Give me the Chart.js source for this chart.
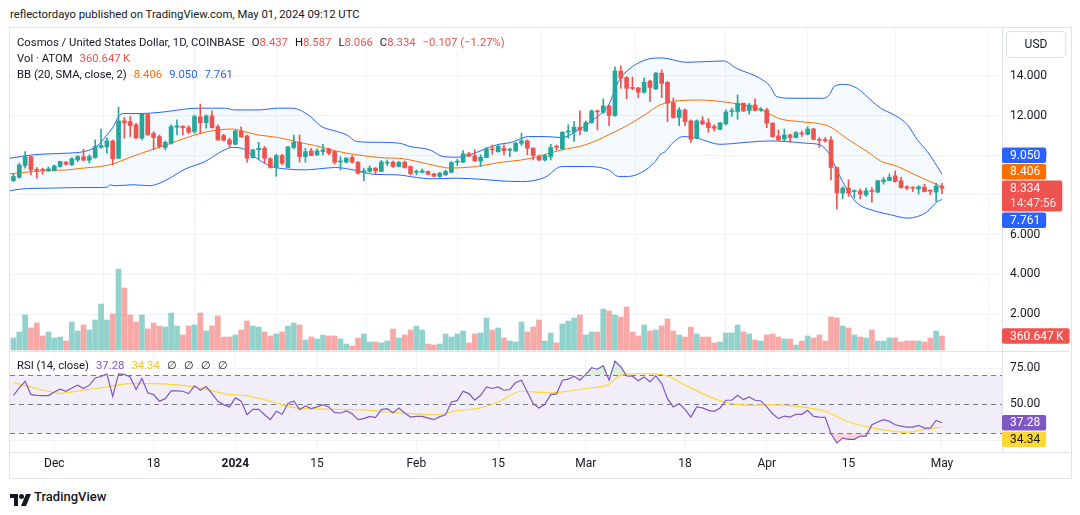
<!DOCTYPE html>
<html>
<head>
<meta charset="utf-8">
<script src="https://cdn.jsdelivr.net/npm/chart.js@4.4.1/dist/chart.umd.min.js"></script>
<style>
  body { margin: 0; background: #fff; font-family: Roboto, "Noto Sans", sans-serif; color: #131722; }
  #wrap { position: relative; width: 1080px; height: 515px; overflow: hidden; }
  .t { position: absolute; white-space: nowrap; font-size: 11.3px; line-height: 16px; }
  .t span.g { margin-left: 7px; }
  .hl { position: absolute; height: 1px; background: #e0e3eb; }
  canvas { position: absolute; }
</style>
</head>
<body>
<div id="wrap">
  <div class="t" style="left:10px;top:7px;">reflectordayo published on TradingView.com, May 01, 2024 09:12 UTC</div>
  <div style="position:absolute;left:9px;top:27px;width:1061px;height:450px;border:1px solid #e0e3eb;"></div>
  <canvas id="price" width="1070" height="322" style="left:10px;top:29px;"></canvas>
  <canvas id="rsi" width="1070" height="127" style="left:10px;top:351px;"></canvas>
  <div class="hl" style="left:10px;top:351px;width:1060px;"></div>
  <div class="hl" style="left:10px;top:452px;width:1060px;"></div>
  <div style="position:absolute;left:1006px;top:31px;width:58px;height:25px;border:1px solid #e0e3eb;border-radius:4px;font-size:12px;line-height:25px;text-align:center;">USD</div>
  <div class="t" id="leg1" style="left:17px;top:35px;"></div>
  <div class="t" id="leg2" style="left:17px;top:51px;"></div>
  <div class="t" id="leg3" style="left:17px;top:67px;"></div>
  <div class="t" id="leg4" style="left:17px;top:358px;"></div>
  <div style="position:absolute;left:10px;top:491px;">
    <svg width="22" height="12" viewBox="0 0 22 12"><path d="M0 0h8v12h-4V4H0z" fill="#131722"/><circle cx="11.5" cy="2.5" r="2.5" fill="#131722"/><path d="M16 0h5l-5 12h-5z" fill="#131722"/></svg>
  </div>
  <div class="t" style="left:34px;top:489px;font-size:13px;font-weight:500;">TradingView</div>
</div>
<script>
// day 0 = 2023-12-01, first candle 2023-11-24
const firstDay = -7;

const opens = [8.72,8.88,9.48,9.93,9.29,9.28,9.21,9.23,9.43,9.65,9.51,9.76,9.92,9.75,9.88,10.39,10.42,10.72,9.85,11.73,
  11.69,11.53,10.86,12.06,11.09,10.94,10.39,10.6,11.41,11.46,11.39,11.19,11.93,11.64,11.98,11.44,10.99,10.77,10.55,11.22,
  10.97,9.88,10.28,10.35,9.82,9.38,9.98,9.38,10.39,10.65,9.93,10.22,10.02,10.18,10.32,10.18,9.66,9.65,9.88,9.65,
  9.14,9.18,9.35,9.18,9.6,9.65,9.43,9.65,9.43,9.14,9.14,9.18,9.06,8.93,9.01,9.13,9.65,9.65,10.07,9.97,
  9.71,9.88,10.32,10.18,10.35,10.25,10.22,10.6,10.72,10.35,9.93,9.76,9.93,10.45,10.32,11.16,11.16,11.41,11.22,11.64,
  12.23,12.16,12.48,12.0,14.24,13.91,13.42,13.39,13.17,13.74,13.34,14.13,13.67,12.65,11.9,12.28,11.73,10.86,11.73,11.63,
  11.44,11.31,11.58,12.2,12.2,12.62,12.25,12.53,12.26,12.28,11.61,10.97,10.82,11.02,10.89,11.11,11.06,11.32,10.79,10.79,
  10.77,9.38,8.09,8.34,8.17,8.2,8.0,8.2,8.14,8.67,8.72,8.96,8.71,8.41,8.37,8.3,8.39,8.22,8.14,8.437];
const highs = [9.09,9.6,10.18,9.93,9.38,9.35,9.41,9.51,9.71,9.68,9.88,9.98,10.3,10.02,10.77,11.32,10.86,10.77,12.42,11.9,
  11.95,11.61,12.1,12.1,11.19,11.02,10.72,11.53,11.78,11.49,11.49,12.03,12.57,12.03,12.23,11.53,11.06,10.86,11.27,11.43,
  11.02,10.3,10.65,10.44,9.88,10.05,10.05,10.45,11.02,11.02,10.35,10.35,10.32,10.55,10.35,10.22,9.93,9.88,9.98,9.68,
  9.35,9.46,9.38,9.75,9.76,9.71,9.68,9.71,9.46,9.26,9.31,9.21,9.09,9.14,9.26,9.68,9.8,10.23,10.15,10.27,
  10.02,10.4,10.52,10.55,10.52,10.35,10.65,11.11,10.77,10.39,10.02,10.05,10.55,10.52,11.19,11.53,11.69,12.23,11.73,12.28,
  12.28,12.84,12.53,14.45,14.5,13.96,13.94,13.41,13.88,13.79,14.18,14.3,13.71,12.87,12.4,12.33,11.78,11.78,11.95,11.83,
  11.53,11.66,12.28,12.37,13.04,12.62,12.62,12.84,12.4,12.37,11.64,11.27,11.32,11.06,11.19,11.22,11.44,11.36,10.89,10.89,
  10.94,9.4,8.42,8.76,8.25,8.3,8.34,8.37,8.74,8.88,9.06,9.21,8.88,8.47,8.41,8.46,8.54,8.25,8.59,8.587];
const lows = [8.67,8.84,9.35,9.01,8.84,9.04,9.18,9.21,9.4,9.48,9.48,9.68,9.71,9.6,9.85,10.35,10.1,9.51,9.82,10.86,
  10.94,10.86,10.77,11.02,10.27,10.35,10.27,10.55,11.02,11.02,11.09,11.11,11.11,11.36,11.36,10.74,10.72,10.39,10.52,10.9,
  9.65,9.85,9.82,9.6,9.35,8.93,9.51,9.38,10.32,9.65,9.65,9.98,9.98,10.02,10.02,9.55,9.26,9.61,9.6,9.04,
  8.71,9.14,9.04,9.18,9.48,9.38,9.41,9.35,9.01,9.01,9.11,9.01,8.91,8.88,8.98,9.11,9.48,9.63,9.93,9.68,
  9.43,9.88,10.05,10.15,10.02,9.93,10.18,10.49,10.02,9.76,9.71,9.71,9.76,10.27,10.27,10.86,10.69,11.02,11.19,11.61,
  11.27,12.11,11.49,11.95,13.37,12.84,13.29,12.9,13.12,12.7,13.3,12.9,11.69,11.86,11.49,11.49,10.65,10.82,11.53,11.16,
  11.22,11.27,11.53,11.95,11.81,12.2,12.08,12.23,12.2,11.39,10.89,10.72,10.69,10.65,10.86,10.94,11.02,10.77,10.39,10.65,
  8.76,7.3,7.8,7.92,7.84,7.8,7.92,7.63,8.1,8.54,8.71,8.64,8.34,8.25,8.17,8.04,8.14,8.0,7.67,8.066];
const closes = [8.93,9.51,9.93,9.26,9.23,9.24,9.31,9.46,9.68,9.55,9.82,9.93,9.75,9.93,10.44,10.49,10.72,9.82,11.73,11.63,
  11.49,10.86,12.06,11.02,10.89,10.44,10.65,11.44,11.48,11.39,11.16,11.95,11.64,11.98,11.39,10.77,10.75,10.55,11.22,10.92,
  9.85,10.27,10.34,9.85,9.38,9.98,9.6,10.42,10.65,9.93,10.18,9.98,10.22,10.27,10.1,9.65,9.71,9.85,9.65,9.09,
  9.21,9.35,9.21,9.65,9.65,9.43,9.65,9.38,9.06,9.18,9.21,9.04,8.94,9.09,9.18,9.63,9.68,10.07,9.95,9.71,
  9.9,10.32,10.27,10.45,10.23,10.28,10.6,10.72,10.35,9.98,9.76,9.98,10.39,10.4,11.16,11.22,11.41,11.27,11.64,12.23,
  12.18,12.48,12.0,14.24,13.88,13.37,13.37,13.17,13.67,13.41,14.13,13.62,12.62,11.9,12.28,11.69,10.8,11.73,11.58,11.39,
  11.36,11.63,12.18,12.23,12.62,12.23,12.53,12.25,12.32,11.61,10.94,10.77,11.02,10.89,11.14,11.07,11.32,10.8,10.75,10.72,
  9.38,8.09,8.34,8.09,8.2,8.04,8.2,8.17,8.71,8.76,8.89,8.67,8.37,8.34,8.34,8.41,8.17,8.19,8.441,8.334];
// volume, thousands of ATOM
const volumesK = [310,464,903,568,697,361,464,310,335,232,722,490,645,516,774,1187,774,929,2090,1600,
  903,722,903,542,697,619,593,955,619,387,619,645,955,490,619,877,335,335,387,516,
  748,619,593,464,361,413,464,619,697,645,258,335,284,387,361,361,284,155,103,310,
  413,206,206,181,232,542,310,387,516,619,516,155,129,155,413,335,413,490,181,413,
  439,826,516,568,310,232,206,722,464,593,774,232,439,181,671,748,826,903,387,464,
  464,1058,1006,903,851,1109,464,361,645,490,516,619,800,490,387,335,593,413,335,335,
  181,206,439,439,645,464,413,258,232,387,413,335,284,284,129,232,361,310,387,232,
  851,826,619,568,387,335,310,516,232,232,310,310,206,232,232,232,206,310,490,360.647];
const rsiVals = [56.2,61.3,65.9,56.7,56.2,56.0,56.0,58.5,60.4,59.0,61.3,63.2,60.9,63.2,68.2,69.2,71.0,55.5,71.0,70.6,
  68.9,60.2,67.8,57.9,56.7,52.1,53.9,59.2,59.2,59.0,57.4,62.7,59.7,62.2,57.4,52.1,49.8,48.2,54.4,52.1,
  42.8,46.5,46.5,42.8,39.4,45.2,43.1,50.5,52.3,46.3,48.8,47.0,48.2,49.8,48.2,44.2,44.0,45.4,43.5,39.4,
  40.1,41.7,40.8,46.3,47.0,44.2,47.5,44.0,41.2,41.7,41.7,40.5,39.4,41.5,42.8,51.6,52.5,59.0,57.4,52.8,
  56.2,62.0,60.9,62.0,59.7,60.2,65.0,66.6,58.5,50.5,47.5,50.0,56.7,57.2,66.6,67.3,69.4,66.6,70.6,75.2,
  74.2,76.6,66.6,79.8,75.9,69.6,69.4,66.2,68.9,65.5,69.6,64.3,53.9,48.2,50.5,46.5,41.2,48.2,47.5,45.8,
  45.2,47.5,52.8,52.8,56.2,53.2,55.1,52.8,52.3,48.2,43.5,40.1,41.9,41.2,43.1,43.1,45.8,41.7,41.2,41.0,
  29.7,23.4,26.7,25.8,25.8,28.1,28.1,35.9,37.8,39.4,38.2,35.9,35.0,34.3,34.3,35.5,33.6,33.6,38.9,37.28];
const rsiMaDays = [-7,-3,1,5,9,13,17,21,25,29,33,37,41,45,49,53,57,61,65,69,73,76,80,85,91,95,97,100,104,108,113,116,120,122,128,132,136,141,146,149,152];
const rsiMaVals = [65.0,60.9,57.6,59.7,62.0,64.3,64.3,63.4,61.3,57.4,55.8,52.1,47.7,46.8,46.5,46.1,44.7,43.5,42.8,45.6,47.5,51.6,59.0,57.9,60.9,63.9,70.1,71.2,70.6,63.2,53.9,50.5,49.3,49.8,48.2,45.2,37.8,33.1,30.8,32.7,34.34];

const bbUpperDays = [-7.6,-3.6,-0.7,2.1,5.0,6.7,7.8,9.0,10.1,11.0,11.8,14.7,18.1,24.7,29.2,30.9,34.9,38.4,40.7,43.5,45.8,48.1,50.1,51.8,55.2,59.2,60.9,64.3,66.6,68.9,71.2,73.4,75.7,78.3,81.2,84.0,86.9,89.7,92.6,94.9,96.6,98.3,101.2,104.0,108.3,114.6,116.8,120.8,122.6,123.7,126.5,131.7,132.8,133.5,135.2,137.5,139.8,141.5,143.8,146.1,147.8,149.5,151.2,152];
const bbUpperVals = [9.85,10.02,10.07,10.1,10.18,10.35,10.6,11.02,11.44,11.95,12.1,12.1,12.16,12.37,12.37,12.28,12.28,12.37,12.37,12.03,11.44,11.22,11.02,10.69,10.65,10.6,10.44,10.27,9.93,9.9,10.02,10.27,10.52,10.65,10.94,10.94,10.89,11.27,11.86,12.53,13.71,14.3,14.8,14.9,14.68,14.75,14.38,13.88,13.46,12.95,12.87,12.87,13.07,13.46,13.57,13.37,12.78,12.37,12.03,11.53,10.77,10.18,9.43,9.05];
const bbBasisDays = [-7.6,-3.6,-0.7,2.1,5.0,7.8,9.6,11.3,13.5,16.4,18.1,19.5,22.4,25.8,28.1,30.4,32.1,34.9,38.4,41.8,44.6,48.1,51.8,55.8,59.8,62.6,66.0,67.8,71.2,73.4,75.5,81.2,86.9,90.9,94.9,98.3,101.2,103.7,107.1,110.6,115.1,118.6,120.8,122.6,124.3,127.7,131.1,132.8,135.8,139.2,141.5,144.4,147.2,148.9,150.6,152];
const bbBasisVals = [9.06,9.18,9.23,9.26,9.35,9.43,9.52,9.7,9.95,10.25,10.42,10.55,10.86,11.16,11.27,11.32,11.22,11.02,10.89,10.65,10.49,10.22,10.02,9.88,9.82,9.65,9.43,9.35,9.4,9.48,9.6,9.82,10.27,10.52,11.02,11.53,12.05,12.53,12.75,12.78,12.67,12.5,12.32,12.06,11.83,11.69,11.58,11.44,10.82,10.18,9.71,9.43,9.04,8.81,8.59,8.406];
const bbLowerDays = [-7.6,-5.9,-0.7,5.0,7.8,9.0,9.6,10.4,13.5,16.4,18.1,19.5,22.4,25.8,28.1,29.2,30.4,32.1,33.8,35.5,37.2,39.5,43.0,45.2,48.1,51.2,54.6,58.6,62.0,64.3,68.9,72.9,76.3,80.0,84.0,86.9,90.9,94.9,96.6,98.3,100.6,102.9,103.7,104.6,106.0,107.7,110.0,114.0,118.6,122.6,125.4,128.8,131.1,132.8,134.1,135.8,137.5,140.4,143.2,146.1,147.8,149.5,151.2,152];
const bbLowerVals = [8.2,8.29,8.34,8.37,8.37,8.39,8.5,8.46,8.51,8.46,8.6,8.8,9.3,9.68,10.1,10.27,10.39,10.35,10.02,9.68,9.43,9.31,9.26,9.31,9.38,9.26,9.04,9.01,8.88,8.81,8.84,8.79,8.71,8.67,8.88,9.43,9.43,9.26,8.93,8.93,9.14,9.68,10.02,10.18,10.65,10.94,10.86,10.55,10.65,10.72,10.69,10.6,10.52,10.02,9.18,8.25,7.58,7.2,7.0,6.83,6.91,7.16,7.67,7.761];

const tickDays = [0,17,31,45,62,76,91,108,122,136,152];
const tickLabels = ['Dec','18','2024','15','Feb','15','Mar','18','Apr','15','May'];
const priceTicks = [2,4,6,8,10,12,14];
const rsiTicks = [25,50,75];
const rsiLevels = [70,50,30];

const FONT = 'Roboto, "Noto Sans", sans-serif';
const UP = '#26a69a', DOWN = '#ef5350';
const GRID = '#f0f3fa';
Chart.defaults.font.family = FONT;
Chart.defaults.font.size = 12;
Chart.defaults.color = '#131722';

const days = opens.map((o, i) => firstDay + i);
const isUp = i => closes[i] >= opens[i];
const pts = (xs, ys) => xs.map((x, i) => ({ x: x, y: ys[i] }));
const last = a => a[a.length - 1];

// legends
const chg = last(closes) - closes[closes.length - 2];
const signed = v => (v < 0 ? '\u2212' : '+') + Math.abs(v).toFixed(3);
document.getElementById('leg1').innerHTML =
  'Cosmos / United States Dollar, 1D, COINBASE' +
  '<span class="g">O</span><span style="color:#ef5350">' + last(opens).toFixed(3) + '</span>' +
  '<span class="g">H</span><span style="color:#ef5350">' + last(highs).toFixed(3) + '</span>' +
  '<span class="g">L</span><span style="color:#ef5350">' + last(lows).toFixed(3) + '</span>' +
  '<span class="g">C</span><span style="color:#ef5350">' + last(closes).toFixed(3) + '</span>' +
  '<span class="g" style="color:#ef5350">' + signed(chg) + ' (' + (chg < 0 ? '\u2212' : '+') + Math.abs(chg / closes[closes.length - 2] * 100).toFixed(2) + '%)</span>';
document.getElementById('leg2').innerHTML =
  'Vol \u00b7 ATOM<span class="g" style="color:#ef5350">' + last(volumesK).toFixed(3) + '\u2009K</span>';
document.getElementById('leg3').innerHTML =
  'BB (20, SMA, close, 2)<span class="g" style="color:#ff6d00">' + last(bbBasisVals).toFixed(3) + '</span>' +
  '<span class="g" style="color:#2962ff">' + last(bbUpperVals).toFixed(3) + '</span>' +
  '<span class="g" style="color:#2962ff">' + last(bbLowerVals).toFixed(3) + '</span>';
document.getElementById('leg4').innerHTML =
  'RSI (14, close)<span class="g" style="color:#7e57c2">' + last(rsiVals).toFixed(2) + '</span>' +
  '<span class="g" style="color:#f5c518">' + last(rsiMaVals).toFixed(2) + '</span>' +
  '<span class="g">\u2205</span><span class="g">\u2205</span><span class="g">\u2205</span><span class="g">\u2205</span>';

// price-axis tags: the anchor stays on its value, the others are pushed away from it
function tagPlugin(groups) {
  return {
    id: 'tags',
    afterDraw(chart) {
      const ctx = chart.ctx, area = chart.chartArea;
      const lineH = 15.5, gap = 1;
      ctx.save();
      ctx.font = '12px ' + FONT;
      ctx.textBaseline = 'middle';
      const draw = (t, top) => {
        const w = Math.max.apply(null, t.lines.map(s => ctx.measureText(s).width)) + 14;
        ctx.fillStyle = t.color;
        ctx.beginPath();
        ctx.roundRect(area.right, top, w, t.h, 2);
        ctx.fill();
        t.lines.forEach((s, k) => {
          ctx.fillStyle = k ? 'rgba(255,255,255,0.85)' : t.text;
          ctx.fillText(s, area.right + 8, top + lineH / 2 + 0.5 + k * lineH);
        });
      };
      groups.forEach(g => {
        const prep = t => Object.assign({}, t, { y: chart.scales[t.axis].getPixelForValue(t.value), h: t.lines.length * lineH });
        const a = prep(g.anchor);
        const aTop = a.y - lineH / 2;
        draw(a, aTop);
        const others = (g.others || []).map(prep);
        let cur = aTop;
        others.filter(t => t.y <= a.y).sort((p, q) => q.y - p.y).forEach(t => {
          const top = Math.min(t.y - t.h / 2, cur - gap - t.h);
          draw(t, top); cur = top;
        });
        cur = aTop + a.h;
        others.filter(t => t.y > a.y).sort((p, q) => p.y - q.y).forEach(t => {
          const top = Math.max(t.y - t.h / 2, cur + gap);
          draw(t, top); cur = top + t.h;
        });
      });
      ctx.restore();
    }
  };
}

const xMin = -7.59, xMax = 162.28;
const noPad = s => { s.paddingTop = 0; s.paddingBottom = 0; s.paddingLeft = 0; s.paddingRight = 0; };
const volPerPx = 25800;

const candleColor = c => isUp(c.dataIndex) ? UP : DOWN;

new Chart(document.getElementById('price'), {
  type: 'bar',
  data: {
    datasets: [
      { type: 'bar', data: days.map((d, i) => ({ x: d, y: volumesK[i] * 1000 })), yAxisID: 'vol',
        backgroundColor: c => isUp(c.dataIndex) ? 'rgba(38,166,154,0.5)' : 'rgba(239,83,80,0.5)',
        barThickness: 5, grouped: false, order: 10 },
      { type: 'line', data: pts(bbUpperDays, bbUpperVals), yAxisID: 'y', borderColor: '#2962ff', borderWidth: 1,
        pointRadius: 0, cubicInterpolationMode: 'monotone', fill: 3, backgroundColor: 'rgba(33,150,243,0.05)', order: 6 },
      { type: 'line', data: pts(bbBasisDays, bbBasisVals), yAxisID: 'y', borderColor: '#ff6d00', borderWidth: 1,
        pointRadius: 0, cubicInterpolationMode: 'monotone', fill: false, order: 5 },
      { type: 'line', data: pts(bbLowerDays, bbLowerVals), yAxisID: 'y', borderColor: '#2962ff', borderWidth: 1,
        pointRadius: 0, cubicInterpolationMode: 'monotone', fill: false, order: 6 },
      { type: 'bar', data: days.map((d, i) => ({ x: d, y: [lows[i], highs[i]] })), yAxisID: 'y',
        backgroundColor: candleColor, barThickness: 1, grouped: false, order: 2 },
      { type: 'bar', data: days.map((d, i) => ({ x: d, y: [opens[i], closes[i]] })), yAxisID: 'y',
        backgroundColor: candleColor, barThickness: 4, minBarLength: 1, grouped: false, order: 1 }
    ]
  },
  options: {
    responsive: false, animation: false, devicePixelRatio: 1,
    layout: { padding: 0 },
    plugins: { legend: { display: false }, tooltip: { enabled: false }, filler: { drawTime: 'beforeDatasetsDraw' } },
    scales: {
      x: { type: 'linear', min: xMin, max: xMax, offset: false,
        afterBuildTicks: s => { s.ticks = tickDays.map(v => ({ value: v })); },
        ticks: { display: false }, grid: { color: GRID, drawTicks: false }, border: { display: false },
        afterFit: s => { s.height = 0; noPad(s); } },
      y: { position: 'right', min: 0.136, max: 16.358,
        afterBuildTicks: s => { s.ticks = priceTicks.map(v => ({ value: v })); },
        ticks: { callback: v => v.toFixed(3), padding: 8, color: '#131722' },
        grid: { color: GRID, drawTicks: false }, border: { display: true, color: '#e0e3eb' },
        afterFit: s => { s.width = 78; noPad(s); } },
      vol: { display: false, min: -volPerPx, max: volPerPx * 321 }
    }
  },
  plugins: [tagPlugin([
    { anchor: { axis: 'y', value: last(closes), color: '#ef5350', text: '#fff', lines: [last(closes).toFixed(3), '14:47:56'] },
      others: [
        { axis: 'y', value: last(bbUpperVals), color: '#2962ff', text: '#fff', lines: [last(bbUpperVals).toFixed(3)] },
        { axis: 'y', value: last(bbBasisVals), color: '#ff6d00', text: '#fff', lines: [last(bbBasisVals).toFixed(3)] },
        { axis: 'y', value: last(bbLowerVals), color: '#2962ff', text: '#fff', lines: [last(bbLowerVals).toFixed(3)] }
      ] },
    { anchor: { axis: 'vol', value: last(volumesK) * 1000, color: '#ef5350', text: '#fff', lines: [last(volumesK).toFixed(3) + '\u2009K'] } }
  ])]
});

const rsiBands = {
  id: 'rsiBands',
  beforeDraw(chart) {
    const ctx = chart.ctx, a = chart.chartArea, y = chart.scales.y;
    const top = y.getPixelForValue(rsiLevels[0]), bot = y.getPixelForValue(rsiLevels[2]);
    ctx.save();
    ctx.fillStyle = 'rgba(126,87,194,0.1)';
    ctx.fillRect(a.left, top, a.right - a.left, bot - top);
    ctx.restore();
  },
  beforeDatasetsDraw(chart) {
    const ctx = chart.ctx, a = chart.chartArea, y = chart.scales.y;
    ctx.save();
    ctx.strokeStyle = '#787b86';
    ctx.lineWidth = 1;
    ctx.setLineDash([5, 4]);
    rsiLevels.forEach(v => {
      const py = Math.round(y.getPixelForValue(v)) + 0.5;
      ctx.beginPath(); ctx.moveTo(a.left, py); ctx.lineTo(a.right, py); ctx.stroke();
    });
    ctx.restore();
  }
};

const rsiPts = days.map((d, i) => ({ x: d, y: rsiVals[i] }));
new Chart(document.getElementById('rsi'), {
  type: 'line',
  data: {
    datasets: [
      { data: rsiPts, borderColor: '#7e57c2', borderWidth: 1.2, pointRadius: 0, fill: false, order: 1 },
      { data: rsiPts, borderWidth: 0, borderColor: 'rgba(0,0,0,0)', pointRadius: 0,
        fill: { target: { value: rsiLevels[0] }, above: 'rgba(76,175,80,0.2)', below: 'rgba(0,0,0,0)' }, order: 4 },
      { data: rsiPts, borderWidth: 0, borderColor: 'rgba(0,0,0,0)', pointRadius: 0,
        fill: { target: { value: rsiLevels[2] }, above: 'rgba(0,0,0,0)', below: 'rgba(242,54,69,0.2)' }, order: 4 },
      { data: pts(rsiMaDays, rsiMaVals), borderColor: '#fdd835', borderWidth: 1.2, pointRadius: 0,
        cubicInterpolationMode: 'monotone', fill: false, order: 2 }
    ]
  },
  options: {
    responsive: false, animation: false, devicePixelRatio: 1,
    layout: { padding: 0 },
    plugins: { legend: { display: false }, tooltip: { enabled: false }, filler: { drawTime: 'beforeDatasetsDraw' } },
    scales: {
      x: { type: 'linear', min: xMin, max: xMax, offset: false,
        afterBuildTicks: s => { s.ticks = tickDays.map(v => ({ value: v })); },
        ticks: { autoSkip: false, maxRotation: 0, padding: 5, color: '#131722',
          callback: v => tickLabels[tickDays.indexOf(v)],
          font: c => ({ size: 12, family: FONT,
            weight: (c.tick && /^\d{4}$/.test(tickLabels[tickDays.indexOf(c.tick.value)])) ? 'bold' : 'normal' }) },
        grid: { color: GRID, drawTicks: false }, border: { display: false },
        afterFit: s => { s.height = 26; noPad(s); } },
      y: { position: 'right', min: 17.1, max: 86.76,
        afterBuildTicks: s => { s.ticks = rsiTicks.map(v => ({ value: v })); },
        ticks: { callback: v => v.toFixed(2), padding: 8, color: '#131722' },
        grid: { color: GRID, drawTicks: false }, border: { display: true, color: '#e0e3eb' },
        afterFit: s => { s.width = 78; noPad(s); } }
    }
  },
  plugins: [rsiBands, tagPlugin([
    { anchor: { axis: 'y', value: last(rsiVals), color: '#7e57c2', text: '#fff', lines: [last(rsiVals).toFixed(2)] },
      others: [
        { axis: 'y', value: last(rsiMaVals), color: '#fdd835', text: '#131722', lines: [last(rsiMaVals).toFixed(2)] }
      ] }
  ])]
});
</script>
</body>
</html>
